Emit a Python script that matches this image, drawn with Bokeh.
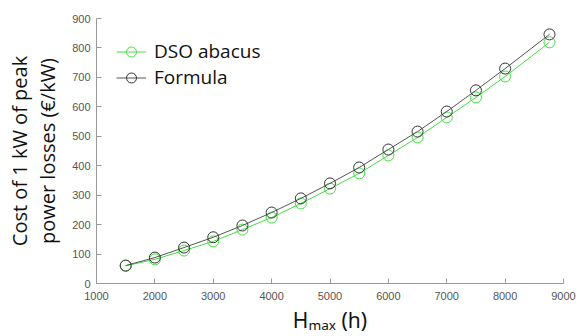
from bokeh.plotting import figure
from bokeh.models import Range1d, Legend, LegendItem, FixedTicker
from bokeh.embed import file_html
from bokeh.resources import INLINE

hours = [1500, 2000, 2500, 3000, 3500, 4000, 4500, 5000, 5500, 6000, 6500, 7000, 7500, 8000, 8760]
dso_abacus = [60, 82, 112, 143, 183, 224, 272, 322, 374, 435, 496, 564, 632, 703, 819]
formula = [61, 88, 122, 157, 197, 241, 289, 340, 394, 455, 516, 584, 656, 730, 846]
x_ticks = [1000, 2000, 3000, 4000, 5000, 6000, 7000, 8000, 9000]
y_ticks = [0, 100, 200, 300, 400, 500, 600, 700, 800, 900]

p = figure(width=583, height=336, output_backend="svg", toolbar_location=None,
           x_range=Range1d(1000, 9000), y_range=Range1d(0, 900),
           min_border_left=96, min_border_right=20, min_border_top=18, min_border_bottom=53)
p.outline_line_color = None
p.xgrid.visible = False
p.ygrid.visible = False

green = "#44dd44"
black = "#555555"
r1 = p.line(hours, dso_abacus, line_color=green, line_width=1)
c1 = p.scatter(hours, dso_abacus, marker="circle", size=11, fill_color=None, line_color=green, line_width=1)
r2 = p.line(hours, formula, line_color=black, line_width=1)
c2 = p.scatter(hours, formula, marker="circle", size=11, fill_color=None, line_color="#333333", line_width=1)
# smaller markers used only for the legend (no data drawn)
nan = float("nan")
lg1 = p.scatter([nan], [nan], marker="circle", size=7, fill_color=None, line_color=green, line_width=1)
lg2 = p.scatter([nan], [nan], marker="circle", size=7, fill_color=None, line_color="#333333", line_width=1)

for ax in (p.xaxis[0], p.yaxis[0]):
    ax.axis_line_color = "#999999"
    ax.major_tick_line_color = "#999999"
    ax.major_tick_in = 5
    ax.major_tick_out = 0
    ax.minor_tick_line_color = None
    ax.major_label_text_font = "Liberation Sans"
    ax.major_label_text_font_size = "11px"
    ax.major_label_text_color = "#555555"

p.xaxis.ticker = FixedTicker(ticks=x_ticks)
p.yaxis.ticker = FixedTicker(ticks=y_ticks)
p.xaxis.major_label_standoff = 8
p.yaxis.major_label_standoff = 6

p.yaxis.axis_label = "Cost of 1 kW of peak\npower losses (€/kW)"
p.yaxis.axis_label_text_font = "Open Sans"
p.yaxis.axis_label_text_font_size = "20px"
p.yaxis.axis_label_text_font_style = "normal"
p.yaxis.axis_label_text_color = "#111111"
p.yaxis.axis_label_text_line_height = 1.05
p.yaxis.axis_label_standoff = 8

p.xaxis.axis_label = "H\u2098\u2090\u2093 (h)"
p.xaxis.axis_label_text_font = "Noto Sans"
p.xaxis.axis_label_text_font_size = "21px"
p.xaxis.axis_label_text_font_style = "normal"
p.xaxis.axis_label_text_color = "#111111"
p.xaxis.axis_label_standoff = 3

legend = Legend(items=[LegendItem(label="DSO abacus", renderers=[r1, lg1]),
                       LegendItem(label="Formula", renderers=[r2, lg2])],
                location="top_left")
legend.border_line_color = None
legend.background_fill_alpha = 0
legend.label_text_font = "Open Sans"
legend.label_text_font_size = "19px"
legend.label_text_color = "#111111"
legend.glyph_width = 30
legend.glyph_height = 25
legend.label_height = 25
legend.spacing = 0
legend.padding = 0
legend.margin = 20
legend.label_standoff = 8
p.add_layout(legend)

open("out.html", "w").write(file_html(p, INLINE))
